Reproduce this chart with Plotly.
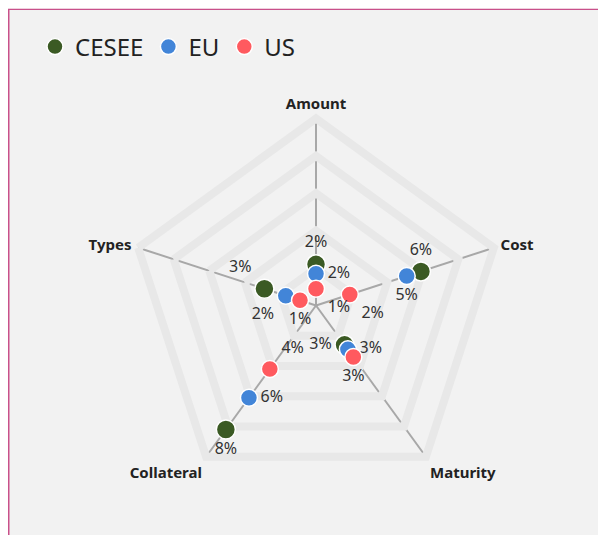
import plotly.graph_objects as go

categories = ["Amount", "Cost", "Maturity", "Collateral", "Types"]
series_names = ["CESEE", "EU", "US"]
cesee = [2.2, 5.9, 2.6, 8.2, 2.9]
eu = [1.7, 5.1, 2.9, 6.1, 1.7]
us = [0.9, 1.9, 3.4, 4.2, 0.9]

colors = ["#3b5a24", "#4285d8", "#ff5a5f"]
sizes = [19, 17, 17]
positions = [
    ["top center", "top center", "middle left", "bottom center", "top left"],
    ["middle right", "bottom center", "middle right", "middle right", "bottom left"],
    ["bottom right", "bottom right", "bottom center", "top right", "bottom center"],
]

W, H = 598, 527
L, R, T, B = 121, 103, 110, 42
pw, ph = W - L - R, H - T - B

fig = go.Figure()
for name, vals, col, sz, pos in zip(series_names, [cesee, eu, us], colors, sizes, positions):
    fig.add_trace(go.Scatterpolar(
        r=vals, theta=categories, name=name, mode="markers+text",
        text=[f"{round(v)}%" for v in vals], textposition=pos,
        textfont=dict(family="Noto Sans", size=16, color="#333333"),
        marker=dict(color=col, size=sz, line=dict(color="white", width=1.5)),
        cliponaxis=False,
    ))

def px_x(p):
    return (p - L) / pw

def px_y(p):
    return (H - B - p) / ph

shapes = [
    dict(type="line", xref="paper", yref="paper", x0=px_x(0.75), x1=px_x(0.75), y0=px_y(1), y1=px_y(H + 20),
         line=dict(color="#c9508a", width=1.5)),
    dict(type="line", xref="paper", yref="paper", x0=px_x(0), x1=px_x(W + 20), y0=px_y(1.25), y1=px_y(1.25),
         line=dict(color="#c9508a", width=1.5)),
    dict(type="rect", xref="paper", yref="paper", x0=px_x(-10), x1=px_x(W + 20), y0=px_y(0.5), y1=px_y(-20),
         fillcolor="white", line=dict(width=0)),
]

fig.update_layout(
    width=W, height=H,
    margin=dict(l=L, r=R, t=T, b=B),
    paper_bgcolor="#f2f2f2",
    font=dict(family="Noto Sans", color="#333333"),
    showlegend=True,
    legend=dict(orientation="h", xref="container", yref="container", x=27 / W, y=1 - 39 / H,
                yanchor="middle", xanchor="left", font=dict(size=24, color="#222222"),
                bgcolor="rgba(0,0,0,0)", itemclick=False),
    shapes=shapes,
    polar=dict(
        bgcolor="rgba(0,0,0,0)",
        gridshape="linear",
        radialaxis=dict(range=[0, 10], tickvals=[2, 4, 6, 8], showticklabels=False, ticks="",
                        showline=False, gridcolor="#e8e8e8", gridwidth=8, layer="below traces"),
        angularaxis=dict(direction="clockwise", rotation=90, gridcolor="#a8a8a8", gridwidth=1.5,
                         linecolor="#e8e8e8", linewidth=8, ticks="", layer="below traces",
                         tickfont=dict(family="Noto Sans", size=15, color="#222222", weight="bold")),
    ),
)

fig.write_html("out.html")
